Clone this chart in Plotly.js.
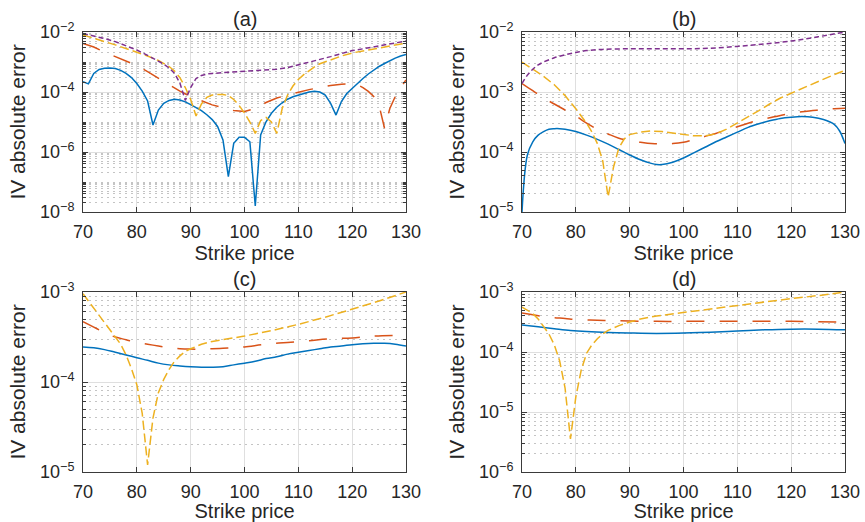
<!DOCTYPE html>
<html><head><meta charset="utf-8">
<script src="https://cdn.plot.ly/plotly-3.0.1.min.js"></script>
<style>html,body{margin:0;padding:0;background:#fff}#chart{width:865px;height:522px}</style>
</head><body><div id="chart"></div>
<script>
// ---------- data ----------
const xTicks = [70, 80, 90, 100, 110, 120, 130];
const panelTitles = ['(a)', '(b)', '(c)', '(d)'];

// (a)
const aBlueX = [70,71,72,73,74,75,76,77,78,79,80,81,82,83,84,85,86,87,88,89,90,91,92,93,94,95,96,97,98,99,100,101,102,103,104,105,106,107,108,109,110,111,112,113,114,115,116,117,118,119,120,121,122,123,124,125,126,127,128,129,130];
const aBlueY = [2.19e-4,1.86e-4,4.17e-4,5.62e-4,6.17e-4,6.31e-4,6.03e-4,5.25e-4,4.17e-4,3.02e-4,1.91e-4,1.07e-4,5.01e-5,7.94e-6,2.51e-5,4.17e-5,5.25e-5,5.75e-5,5.37e-5,4.68e-5,3.80e-5,3.02e-5,2.40e-5,1.74e-5,1.20e-5,7.08e-6,2.51e-6,1.51e-7,1.95e-6,3.09e-6,3.09e-6,2.19e-6,1.58e-8,3.72e-6,1.02e-5,1.95e-5,3.09e-5,4.37e-5,5.75e-5,6.92e-5,7.94e-5,9.12e-5,1.0e-4,1.05e-4,1.0e-4,7.94e-5,4.17e-5,1.70e-5,4.79e-5,8.91e-5,1.32e-4,2.0e-4,2.82e-4,3.98e-4,5.37e-4,7.08e-4,8.91e-4,1.12e-3,1.35e-3,1.58e-3,1.78e-3];
const aRedX = [70,72,74,76,78,80,82,84,86,88,90,92,94,96,98,100,102,104,106,108,110,112,114,116,118,120,121,122,123,124,125,126,127,128,129,130];
const aRedY = [4.17e-3,3.16e-3,2.14e-3,1.51e-3,1.07e-3,7.59e-4,4.79e-4,2.95e-4,1.70e-4,1.07e-4,7.08e-5,5.01e-5,3.72e-5,3.02e-5,2.40e-5,2.24e-5,2.82e-5,4.47e-5,6.31e-5,7.94e-5,1.0e-4,1.20e-4,1.41e-4,1.66e-4,1.82e-4,1.86e-4,1.74e-4,1.41e-4,1.05e-4,7.08e-5,3.55e-5,6.31e-6,2.82e-5,7.08e-5,1.41e-4,2.51e-4];
const aYellowX = [70,72,74,76,78,80,82,84,85,86,87,88,89,90,91,92,93,94,95,96,97,98,99,100,101,102,103,104,105,106,107,108,109,110,111,112,113,114,116,118,120,122,124,126,128,130];
const aYellowY = [7.94e-3,6.31e-3,4.79e-3,3.72e-3,2.82e-3,2.19e-3,1.58e-3,1.12e-3,8.91e-4,7.08e-4,5.01e-4,3.02e-4,1.41e-4,5.62e-5,1.58e-5,3.98e-5,6.61e-5,7.94e-5,8.32e-5,8.32e-5,7.59e-5,5.62e-5,3.55e-5,2.0e-5,1.0e-5,4.17e-6,1.12e-5,1.41e-5,1.0e-5,4.17e-6,2.82e-5,7.94e-5,1.58e-4,2.63e-4,3.80e-4,5.25e-4,6.92e-4,8.71e-4,1.20e-3,1.58e-3,2.0e-3,2.34e-3,2.75e-3,3.24e-3,3.72e-3,4.27e-3];
const aPurpleX = [70,72,74,76,78,80,82,84,85,86,87,88,89,90,91,92,93,94,96,98,100,102,104,106,108,110,112,114,116,118,120,122,124,126,128,130];
const aPurpleY = [8.91e-3,7.41e-3,6.03e-3,4.79e-3,3.55e-3,2.51e-3,1.66e-3,1.07e-3,8.51e-4,6.31e-4,4.17e-4,2.0e-4,5.25e-5,1.41e-4,2.82e-4,3.55e-4,3.98e-4,4.17e-4,4.37e-4,4.57e-4,4.79e-4,5.01e-4,5.37e-4,5.75e-4,6.46e-4,7.94e-4,9.55e-4,1.2e-3,1.51e-3,1.91e-3,2.4e-3,2.75e-3,3.16e-3,3.63e-3,4.27e-3,5.01e-3];

// (b)
const bBlueX = [70,71,72,73,74,75,76,77,78,80,82,84,86,88,90,92,94,95,96,98,100,102,104,106,108,110,112,114,116,118,120,122,124,126,128,129,130];
const bBlueY = [1.0e-5,8.91e-5,1.48e-4,1.91e-4,2.19e-4,2.40e-4,2.45e-4,2.45e-4,2.40e-4,2.19e-4,1.91e-4,1.62e-4,1.35e-4,1.10e-4,8.91e-5,7.41e-5,6.46e-5,6.17e-5,6.17e-5,6.76e-5,7.94e-5,9.77e-5,1.20e-4,1.48e-4,1.78e-4,2.14e-4,2.57e-4,2.95e-4,3.31e-4,3.63e-4,3.80e-4,3.89e-4,3.80e-4,3.47e-4,2.88e-4,2.24e-4,1.38e-4];
const bRedX = [70,72,74,76,78,80,82,84,86,88,90,92,94,96,98,100,102,104,106,108,110,112,114,116,118,120,122,124,126,128,130];
const bRedY = [1.38e-3,1.05e-3,7.94e-4,6.31e-4,5.01e-4,3.98e-4,3.02e-4,2.40e-4,2.0e-4,1.70e-4,1.55e-4,1.45e-4,1.38e-4,1.38e-4,1.38e-4,1.45e-4,1.62e-4,1.82e-4,2.04e-4,2.34e-4,2.63e-4,3.02e-4,3.39e-4,3.72e-4,4.07e-4,4.37e-4,4.68e-4,4.90e-4,5.13e-4,5.25e-4,5.37e-4];
const bYellowX = [70,72,74,76,78,80,82,83,84,85,86,87,88,89,90,92,94,96,98,100,102,104,106,108,110,112,114,116,118,120,122,124,126,128,130];
const bYellowY = [3.16e-3,2.40e-3,1.82e-3,1.32e-3,8.71e-4,5.25e-4,3.02e-4,2.14e-4,1.38e-4,7.08e-5,1.78e-5,5.62e-5,1.17e-4,1.66e-4,1.95e-4,2.14e-4,2.24e-4,2.19e-4,2.09e-4,1.95e-4,1.86e-4,1.86e-4,2.0e-4,2.40e-4,3.02e-4,3.80e-4,4.90e-4,6.31e-4,7.94e-4,9.55e-4,1.15e-3,1.38e-3,1.62e-3,1.95e-3,2.29e-3];
const bPurpleX = [70,71,72,73,74,76,78,80,82,85,90,95,100,105,110,115,120,125,130];
const bPurpleY = [1.38e-3,1.91e-3,2.40e-3,2.82e-3,3.16e-3,3.72e-3,4.17e-3,4.57e-3,4.90e-3,5.13e-3,5.25e-3,5.25e-3,5.25e-3,5.37e-3,5.75e-3,6.31e-3,7.08e-3,8.32e-3,1.0e-2];

// (c)
const cBlueX = [70,72,74,76,78,80,82,84,86,88,90,92,94,96,98,100,102,104,106,108,110,112,114,116,118,120,122,124,126,128,130];
const cBlueY = [2.45e-4,2.40e-4,2.29e-4,2.14e-4,2.0e-4,1.86e-4,1.74e-4,1.62e-4,1.55e-4,1.51e-4,1.48e-4,1.46e-4,1.46e-4,1.48e-4,1.55e-4,1.62e-4,1.70e-4,1.82e-4,1.91e-4,2.04e-4,2.14e-4,2.24e-4,2.34e-4,2.45e-4,2.51e-4,2.60e-4,2.66e-4,2.69e-4,2.69e-4,2.63e-4,2.51e-4];
const cRedX = [70,72,74,76,78,80,82,84,86,88,90,92,94,96,98,100,104,108,112,116,120,124,130];
const cRedY = [4.68e-4,4.07e-4,3.55e-4,3.16e-4,2.95e-4,2.75e-4,2.63e-4,2.51e-4,2.40e-4,2.34e-4,2.32e-4,2.32e-4,2.34e-4,2.37e-4,2.40e-4,2.45e-4,2.63e-4,2.75e-4,2.88e-4,3.02e-4,3.09e-4,3.24e-4,3.31e-4];
const cYellowX = [70,71,72,73,74,75,76,77,78,79,80,81,82,83,84,85,86,87,88,89,90,92,94,96,98,100,105,110,115,120,125,130];
const cYellowY = [9.55e-4,7.94e-4,6.61e-4,5.37e-4,4.47e-4,3.72e-4,3.16e-4,2.63e-4,2.0e-4,1.41e-4,9.33e-5,4.47e-5,1.20e-5,3.98e-5,7.59e-5,1.07e-4,1.38e-4,1.70e-4,1.95e-4,2.19e-4,2.34e-4,2.63e-4,2.82e-4,2.95e-4,3.09e-4,3.24e-4,3.72e-4,4.37e-4,5.25e-4,6.46e-4,7.94e-4,1.0e-3];

// (d)
const dBlueX = [70,73,76,79,82,86,90,95,100,105,110,115,120,125,130];
const dBlueY = [2.82e-4,2.63e-4,2.45e-4,2.29e-4,2.19e-4,2.11e-4,2.07e-4,2.04e-4,2.07e-4,2.14e-4,2.24e-4,2.34e-4,2.40e-4,2.40e-4,2.34e-4];
const dRedX = [70,72,74,76,78,80,84,88,95,100,110,120,130];
const dRedY = [4.47e-4,4.17e-4,3.89e-4,3.72e-4,3.63e-4,3.47e-4,3.39e-4,3.31e-4,3.24e-4,3.24e-4,3.24e-4,3.24e-4,3.16e-4];
const dYellowX = [70,71,72,73,74,75,76,77,78,79,80,81,82,83,84,85,86,88,90,92,95,100,105,110,115,120,125,130];
const dYellowY = [5.62e-4,5.01e-4,4.37e-4,3.55e-4,2.69e-4,2.0e-4,1.32e-4,7.08e-5,2.51e-5,3.55e-6,1.78e-5,5.01e-5,9.55e-5,1.32e-4,1.66e-4,2.0e-4,2.29e-4,2.75e-4,3.16e-4,3.55e-4,3.98e-4,4.57e-4,5.25e-4,6.03e-4,6.76e-4,7.76e-4,8.71e-4,1.0e-3];

// ---------- styling ----------
const AX = '#3a3a3a';
const TXT = '#262626';
const FONT = 'Liberation Sans, Arial, Helvetica, sans-serif';
const STY = {
  blue:   {color: '#0072BD', width: 1.5, dash: 'solid'},
  red:    {color: '#D95319', width: 1.5, dash: '18px,15px'},
  yellow: {color: '#EDB120', width: 1.5, dash: '9px,4px'},
  purple: {color: '#7E2F8E', width: 1.5, dash: '5px,3px'}
};
function tr(x, y, style, n, shape) {
  return {x: x, y: y, type: 'scatter', mode: 'lines', xaxis: 'x' + (n > 1 ? n : ''), yaxis: 'y' + (n > 1 ? n : ''),
    line: Object.assign({}, STY[style], {shape: shape || 'linear'}), hoverinfo: 'skip', showlegend: false};
}
const data = [
  tr(aBlueX, aBlueY, 'blue', 1), tr(aRedX, aRedY, 'red', 1), tr(aYellowX, aYellowY, 'yellow', 1), tr(aPurpleX, aPurpleY, 'purple', 1),
  tr(bBlueX, bBlueY, 'blue', 2, 'spline'), tr(bRedX, bRedY, 'red', 2, 'spline'), tr(bYellowX, bYellowY, 'yellow', 2), tr(bPurpleX, bPurpleY, 'purple', 2, 'spline'),
  tr(cBlueX, cBlueY, 'blue', 3, 'spline'), tr(cRedX, cRedY, 'red', 3, 'spline'), tr(cYellowX, cYellowY, 'yellow', 3),
  tr(dBlueX, dBlueY, 'blue', 4, 'spline'), tr(dRedX, dRedY, 'red', 4, 'spline'), tr(dYellowX, dYellowY, 'yellow', 4)
];

const W = 865, H = 522;
const dom = {
  x1: [83 / W, 406 / W], x2: [522 / W, 845 / W],
  yTop: [1 - 212 / H, 1 - 32 / H], yBot: [1 - 472 / H, 1 - 292 / H]
};
function xax(domain, anchor) {
  return {domain: domain, anchor: anchor, range: [70, 130], tickmode: 'array', tickvals: xTicks,
    ticks: 'inside', ticklen: 5, tickcolor: AX, tickwidth: 1,
    showline: true, linecolor: AX, linewidth: 1, mirror: 'allticks',
    showgrid: true, gridcolor: '#dfdfdf', gridwidth: 1, zeroline: false,
    tickfont: {size: 18, color: TXT, family: FONT}, ticklabelstandoff: 3,
    title: {text: 'Strike price', font: {size: 20, color: TXT, family: FONT}, standoff: 3}};
}
function yax(domain, anchor, lo, hi, majors) {
  const minors = [];
  for (let d = lo; d < hi; d++) for (let k = 1; k <= 9; k++) {
    if (k === 1 && majors.indexOf(d) >= 0) continue;
    minors.push(k * Math.pow(10, d));
  }
  return {domain: domain, anchor: anchor, type: 'log', range: [lo, hi],
    tickmode: 'array', tickvals: majors.map(p => Math.pow(10, p)),
    ticktext: majors.map(p => '10<sup>\u2212' + (-p) + '</sup>'),
    ticks: 'inside', ticklen: 5, tickcolor: AX, tickwidth: 1,
    showline: true, linecolor: AX, linewidth: 1, mirror: 'allticks',
    showgrid: true, gridcolor: '#dfdfdf', gridwidth: 1, zeroline: false,
    minor: {tickmode: 'array', tickvals: minors, ticks: 'inside', ticklen: 3, tickcolor: AX,
      showgrid: true, gridcolor: '#c4c4c4', griddash: '2px,4px', gridwidth: 1},
    tickfont: {size: 18, color: TXT, family: FONT}, ticklabelstandoff: 4,
    title: {text: 'IV absolute error', font: {size: 21, color: TXT, family: FONT}, standoff: 8}};
}
const layout = {
  width: W, height: H, margin: {l: 0, r: 0, t: 0, b: 0},
  paper_bgcolor: '#fff', plot_bgcolor: '#fff', showlegend: false,
  font: {family: FONT, color: TXT},
  xaxis: xax(dom.x1, 'y'), yaxis: yax(dom.yTop, 'x', -8, -2, [-8, -6, -4, -2]),
  xaxis2: xax(dom.x2, 'y2'), yaxis2: yax(dom.yTop, 'x2', -5, -2, [-5, -4, -3, -2]),
  xaxis3: xax(dom.x1, 'y3'), yaxis3: yax(dom.yBot, 'x3', -5, -3, [-5, -4, -3]),
  xaxis4: xax(dom.x2, 'y4'), yaxis4: yax(dom.yBot, 'x4', -6, -3, [-6, -5, -4, -3]),
  annotations: [
    {xd: dom.x1, yd: dom.yTop}, {xd: dom.x2, yd: dom.yTop}, {xd: dom.x1, yd: dom.yBot}, {xd: dom.x2, yd: dom.yBot}
  ].map((p, i) => ({text: panelTitles[i], xref: 'paper', yref: 'paper', x: (p.xd[0] + p.xd[1]) / 2, y: p.yd[1],
    xanchor: 'center', yanchor: 'bottom', yshift: 0, showarrow: false, font: {size: 20, color: TXT, family: FONT}}))
};
Plotly.newPlot('chart', data, layout, {staticPlot: true, displayModeBar: false});
</script></body></html>
